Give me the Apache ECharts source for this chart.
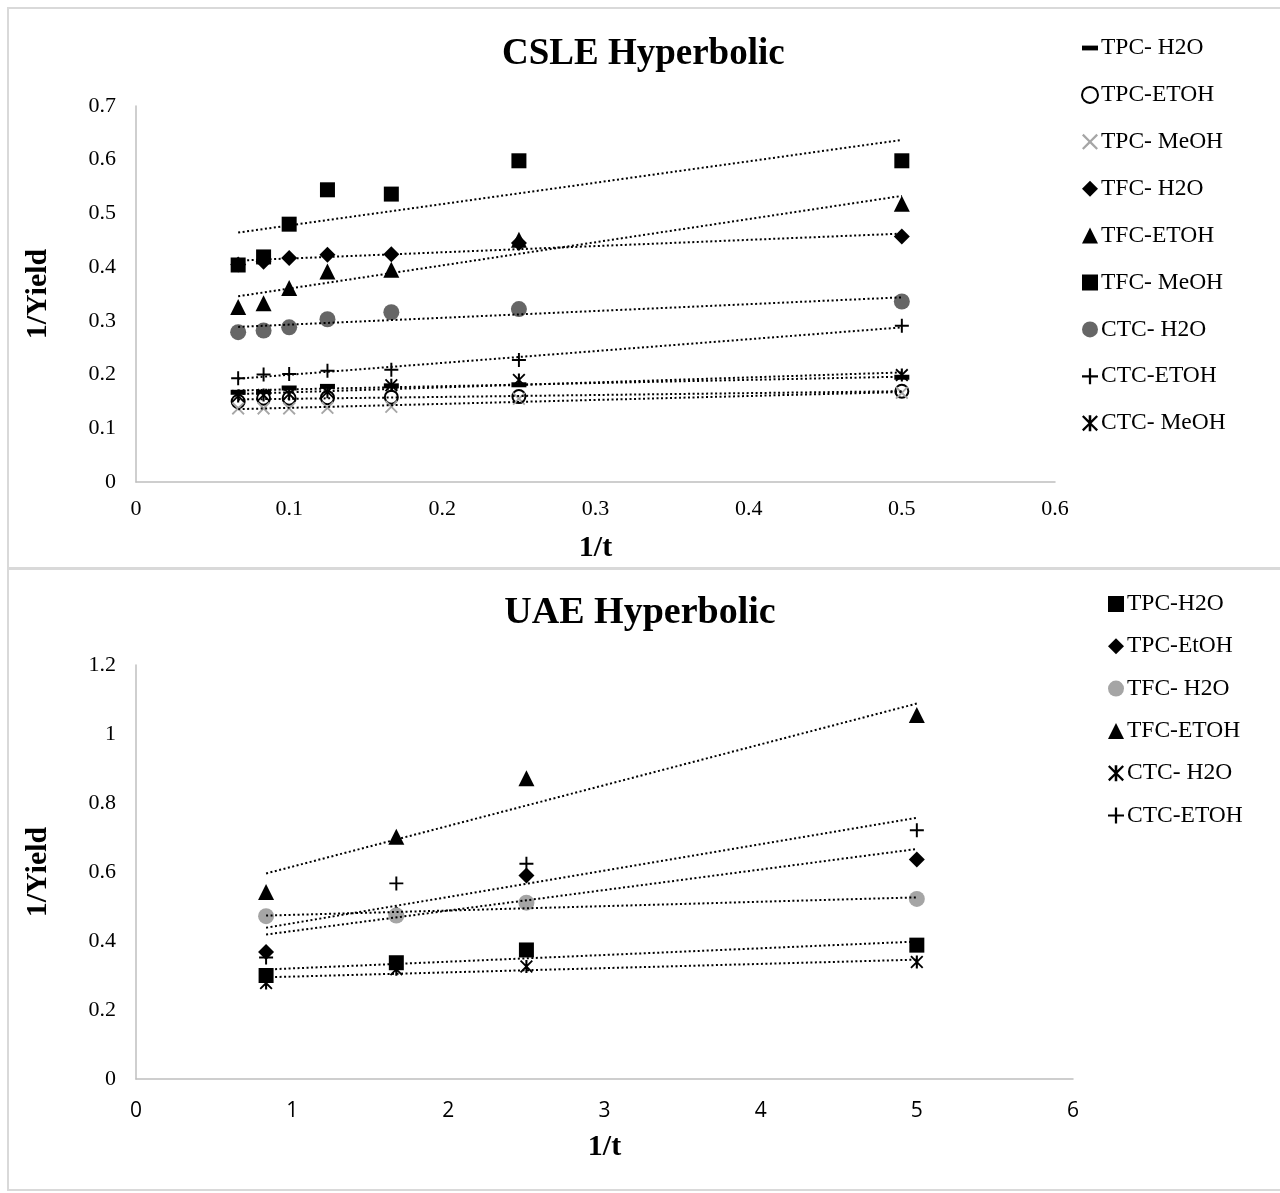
<!DOCTYPE html>
<html>
<head>
<meta charset="utf-8">
<script src="https://cdn.jsdelivr.net/npm/echarts@6/dist/echarts.min.js"></script>
<style>
  body { margin: 0; background: #fff; }
  #csleChart { position: absolute; left: 0; top: 0; width: 1280px; height: 568px; }
  #uaeChart { position: absolute; left: 0; top: 568px; width: 1280px; height: 625px; }
</style>
</head>
<body>
<div id="csleChart"></div>
<div id="uaeChart"></div>
<script>
// CSLE: 1/t values and 1/Yield per series
const csleX = [0.0667, 0.0833, 0.1, 0.125, 0.1667, 0.25, 0.5];
const csleTpcH2O = [0.167, 0.167, 0.175, 0.178, 0.179, 0.181, 0.195];
const csleTpcEtoh = [0.150, 0.156, 0.156, 0.157, 0.158, 0.159, 0.169];
const csleTpcMeoh = [0.137, 0.137, 0.137, 0.138, 0.140, 0.155, 0.166];
const csleTfcH2O = [0.405, 0.410, 0.417, 0.423, 0.424, 0.445, 0.457];
const csleTfcEtoh = [0.326, 0.333, 0.361, 0.392, 0.395, 0.451, 0.518];
const csleTfcMeoh = [0.404, 0.419, 0.480, 0.544, 0.536, 0.598, 0.598];
const csleCtcH2O = [0.279, 0.282, 0.288, 0.303, 0.316, 0.322, 0.336];
const csleCtcEtoh = [0.193, 0.200, 0.201, 0.207, 0.209, 0.227, 0.291];
const csleCtcMeoh = [0.160, 0.162, 0.164, 0.168, 0.180, 0.190, 0.199];

// UAE
const uaeX = [0.833, 1.667, 2.5, 5];
const uaeTpcH2O = [0.300, 0.337, 0.374, 0.388];
const uaeTpcEtoh = [0.368, 0.478, 0.590, 0.636];
const uaeTfcH2O = [0.472, 0.474, 0.511, 0.522];
const uaeTfcEtoh = [0.542, 0.702, 0.872, 1.055];
const uaeCtcH2O = [0.278, 0.318, 0.326, 0.339];
const uaeCtcEtoh = [0.352, 0.567, 0.624, 0.721];

const SERIF = '"Liberation Serif", "Times New Roman", serif';
const SANS = '"Open Sans", "Liberation Sans", sans-serif';

const CROSS = 'path://M1,0L5,4L9,0L10,1L6,5L10,9L9,10L5,6L1,10L0,9L4,5L0,1Z';
const PLUS = 'path://M4.3,0H5.7V4.3H10V5.7H5.7V10H4.3V5.7H0V4.3H4.3Z';
const STAR = 'path://M1,0L5,4L9,0L10,1L6,5L10,9L9,10L5,6L1,10L0,9L4,5L0,1Z M4.2,0H5.8V10H4.2Z';
const DASH = 'path://M0,0H10V3H0Z';

document.addEventListener('DOMContentLoaded', () => {
  drawCsle();
  drawUae();
});

// least squares line over the data range, like the excel trendline
function trendLine(xs, ys) {
  const n = xs.length;
  const mx = xs.reduce((a, b) => a + b, 0) / n;
  const my = ys.reduce((a, b) => a + b, 0) / n;
  let sxy = 0, sxx = 0;
  xs.forEach((x, i) => {
    sxy += (x - mx) * (ys[i] - my);
    sxx += (x - mx) * (x - mx);
  });
  const b = sxy / sxx;
  const a = my - b * mx;
  const x0 = Math.min(...xs), x1 = Math.max(...xs);
  return [[x0, a + b * x0], [x1, a + b * x1]];
}

function buildSeries(list) {
  const marks = list.map(s => ({
    name: s.name,
    type: 'scatter',
    symbol: s.symbol,
    symbolSize: s.size,
    itemStyle: Object.assign({ opacity: 1 }, s.itemStyle),
    z: 2,
    data: s.xs.map((x, i) => [x, s.ys[i]])
  }));
  const lines = list.map(s => ({
    name: s.name + ' trend',
    type: 'line',
    data: trendLine(s.xs, s.ys),
    showSymbol: false,
    silent: true,
    z: 3,
    lineStyle: { color: '#000', width: 2, type: [2, 2.5] }
  }));
  return marks.concat(lines);
}

function legendOf(list, left, top, gap) {
  return {
    orient: 'vertical',
    left: left,
    top: top,
    padding: 0,
    itemGap: gap,
    itemWidth: 16,
    itemHeight: 16,
    selectedMode: false,
    textStyle: { fontFamily: SERIF, fontSize: 23.5, color: '#000', lineHeight: 24, padding: [0, 0, 0, -2] },
    data: list.map(s => ({
      name: s.name,
      icon: s.icon || s.symbol,
      itemStyle: Object.assign({ opacity: 1 }, s.itemStyle)
    }))
  };
}

function axisBase() {
  return {
    type: 'value',
    axisLine: { show: true, lineStyle: { color: '#bfbfbf', width: 1.5 } },
    axisTick: { show: false },
    splitLine: { show: false },
    nameLocation: 'middle',
    nameTextStyle: { fontFamily: SERIF, fontSize: 30, fontWeight: 'bold', color: '#000' }
  };
}

function drawCsle() {
  const list = [
    { name: 'TPC- H2O', xs: csleX, ys: csleTpcH2O, symbol: 'rect', size: [15, 5], icon: DASH, itemStyle: { color: '#000' } },
    { name: 'TPC-ETOH', xs: csleX, ys: csleTpcEtoh, symbol: 'emptyCircle', size: 13, itemStyle: { color: '#000', borderColor: '#000', borderWidth: 2.5 } },
    { name: 'TPC- MeOH', xs: csleX, ys: csleTpcMeoh, symbol: CROSS, size: 13, itemStyle: { color: '#a6a6a6' } },
    { name: 'TFC- H2O', xs: csleX, ys: csleTfcH2O, symbol: 'diamond', size: 16, itemStyle: { color: '#000' } },
    { name: 'TFC-ETOH', xs: csleX, ys: csleTfcEtoh, symbol: 'triangle', size: 16, itemStyle: { color: '#000' } },
    { name: 'TFC- MeOH', xs: csleX, ys: csleTfcMeoh, symbol: 'rect', size: 15, itemStyle: { color: '#000' } },
    { name: 'CTC- H2O', xs: csleX, ys: csleCtcH2O, symbol: 'circle', size: 16, itemStyle: { color: '#666666' } },
    { name: 'CTC-ETOH', xs: csleX, ys: csleCtcEtoh, symbol: PLUS, size: 14, itemStyle: { color: '#000' } },
    { name: 'CTC- MeOH', xs: csleX, ys: csleCtcMeoh, symbol: STAR, size: 13, itemStyle: { color: '#000' } }
  ];

  const xAxis = axisBase();
  Object.assign(xAxis, {
    min: 0, max: 0.6, interval: 0.1,
    name: '1/t', nameGap: 51,
    axisLabel: { fontFamily: SERIF, fontSize: 22, color: '#000', margin: 16 }
  });
  const yAxis = axisBase();
  Object.assign(yAxis, {
    min: 0, max: 0.7, interval: 0.1,
    name: '1/Yield', nameGap: 83,
    axisLabel: { fontFamily: SERIF, fontSize: 22, color: '#000', margin: 20 }
  });

  echarts.init(document.getElementById('csleChart')).setOption({
    animation: false,
    title: {
      text: 'CSLE Hyperbolic', left: 502, top: 36, padding: 0,
      textStyle: { fontFamily: SERIF, fontSize: 37, fontWeight: 'bold', color: '#000' }
    },
    legend: legendOf(list, 1081, 36, 22.9),
    grid: { left: 136, right: 225, top: 106, bottom: 86 },
    xAxis: xAxis,
    yAxis: yAxis,
    graphic: [{
      type: 'rect', silent: true,
      shape: { x: 8, y: 8, width: 1300, height: 560 },
      style: { fill: null, stroke: '#d9d9d9', lineWidth: 2 }
    }],
    series: buildSeries(list)
  });
}

function drawUae() {
  const list = [
    { name: 'TPC-H2O', xs: uaeX, ys: uaeTpcH2O, symbol: 'rect', size: 15, itemStyle: { color: '#000' } },
    { name: 'TPC-EtOH', xs: uaeX, ys: uaeTpcEtoh, symbol: 'diamond', size: 16, itemStyle: { color: '#000' } },
    { name: 'TFC- H2O', xs: uaeX, ys: uaeTfcH2O, symbol: 'circle', size: 16, itemStyle: { color: '#a5a5a5' } },
    { name: 'TFC-ETOH', xs: uaeX, ys: uaeTfcEtoh, symbol: 'triangle', size: 16, itemStyle: { color: '#000' } },
    { name: 'CTC- H2O', xs: uaeX, ys: uaeCtcH2O, symbol: STAR, size: 13, itemStyle: { color: '#000' } },
    { name: 'CTC-ETOH', xs: uaeX, ys: uaeCtcEtoh, symbol: PLUS, size: 14, itemStyle: { color: '#000' } }
  ];

  const xAxis = axisBase();
  Object.assign(xAxis, {
    min: 0, max: 6, interval: 1,
    name: '1/t', nameGap: 53,
    axisLabel: { fontFamily: SANS, fontSize: 21, color: '#000', margin: 22 }
  });
  const yAxis = axisBase();
  Object.assign(yAxis, {
    min: 0, max: 1.2, interval: 0.2,
    name: '1/Yield', nameGap: 83,
    axisLabel: { fontFamily: SERIF, fontSize: 22, color: '#000', margin: 20 }
  });

  echarts.init(document.getElementById('uaeChart')).setOption({
    animation: false,
    title: {
      text: 'UAE Hyperbolic', left: 'center', top: 26, padding: 0,
      textStyle: { fontFamily: SERIF, fontSize: 38, fontWeight: 'bold', color: '#000' }
    },
    legend: legendOf(list, 1108, 24, 18.3),
    grid: { left: 136, right: 207, top: 97, bottom: 114 },
    xAxis: xAxis,
    yAxis: yAxis,
    graphic: [{
      type: 'rect', silent: true,
      shape: { x: 8, y: 1, width: 1300, height: 621 },
      style: { fill: null, stroke: '#d9d9d9', lineWidth: 2 }
    }],
    series: buildSeries(list)
  });
}
</script>
</body>
</html>
